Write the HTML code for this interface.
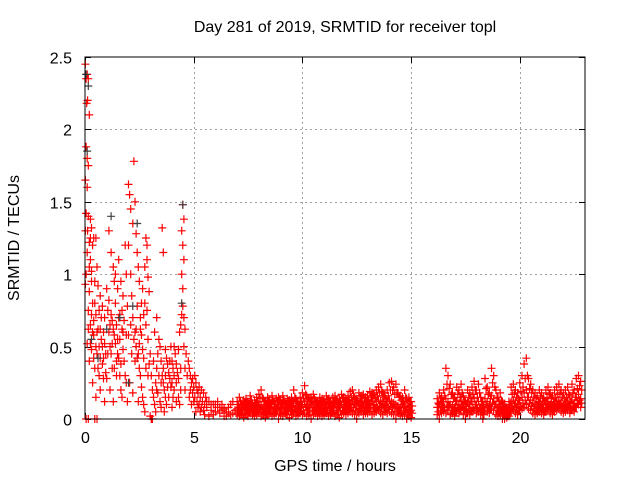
<!DOCTYPE html>
<html><head><meta charset="utf-8"><style>
body{margin:0;background:#fff;}
svg{display:block;font-family:"Liberation Sans",sans-serif;}
</style></head><body>
<svg id="chart" width="640" height="480" viewBox="0 0 640 480">
<rect width="640" height="480" fill="#fff"/>
<text x="345" y="32" font-size="16" text-anchor="middle" fill="#000">Day 281 of 2019, SRMTID for receiver topl</text>
<text x="335" y="471" font-size="16" text-anchor="middle" fill="#000">GPS time / hours</text>
<text transform="translate(19,238) rotate(-90)" font-size="16" text-anchor="middle" fill="#000">SRMTID / TECUs</text>
<g id="grid"></g>
<g id="ticks"></g>
<g id="red"></g>
<g id="black"></g>
<rect x="85" y="57" width="500" height="362" fill="none" stroke="#000" stroke-width="1"/>
</svg>
<script>
const xTicks=[0,5,10,15,20];
const yTicks=[0,0.5,1,1.5,2,2.5];
const yTickLabels=["0","0.5","1","1.5","2","2.5"];
const earlyPoints=[[0.02,2.45],[0.05,2.35],[0.1,2.38],[0.15,2.35],[0.08,2.18],[0.12,2.2],[0.2,2.1],[0.05,1.88],[0.1,1.8],[0.15,1.75],[0.02,1.65],[0.1,1.6],[0.05,1.42],[0.15,1.4],[0.25,1.38],[0.3,1.32],[0.02,1.3],[0.2,1.22],[0.35,1.2],[0.4,1.25],[0.1,1.15],[0.25,1.1],[0.5,1.25],[0.55,1.05],[0.3,1.02],[0.05,1.0],[0.45,0.95],[0.6,0.92],[0.2,0.88],[0.7,0.85],[0.35,0.8],[0.8,0.78],[0.15,0.75],[0.5,0.72],[0.9,0.7],[0.25,0.65],[0.6,0.62],[0.4,0.58],[0.75,0.55],[0.1,0.52],[0.3,0.48],[0.55,0.45],[0.85,0.42],[0.2,0.4],[0.45,0.35],[0.65,0.3],[0.95,0.32],[0.35,0.25],[0.7,0.2],[0.5,0.15],[0.9,0.12],[0.05,0],[0.15,0],[0.45,0],[0.55,0],[0.02,0.93],[0.4,0.68],[0.65,0.5],[0.8,0.38],
[0.3,0.72],[0.45,0.8],[0.55,0.6],[0.65,0.75],[0.7,0.62],[0.75,0.7],[0.85,0.6],[0.9,0.52],[0.95,0.45],[0.6,0.35],[0.7,0.42],[0.8,0.5],[0.35,0.6],[0.25,0.52],[0.5,0.5],[0.15,0.62],[0.85,0.28],[0.4,0.42],[0.3,0.95],[0.2,1.05],[0.12,1.3],[0.25,1.25],
[1.0,0.9],[1.05,0.75],[1.1,0.6],[1.15,0.5],[1.2,0.45],[1.25,0.35],[1.3,1.05],[1.35,0.95],[1.4,0.8],[1.45,0.65],[1.5,0.55],[1.55,0.42],[1.6,0.3],[1.65,0.2],[1.7,0.15],[1.1,1.3],[1.2,1.15],[1.4,1.0],[1.5,0.9],[1.6,0.72],[1.7,0.62],[1.75,0.48],[1.8,0.4],[1.85,0.3],[1.9,0.25],[1.95,0.12],[1.0,0.28],[1.15,0.2],[1.3,0.12],[1.45,0.3],[1.55,1.1],[1.65,0.95],[1.75,0.85],[1.85,1.2],[1.9,1.0],[1.95,0.78],[1.25,0.68],[1.35,0.58],[1.05,0.45],
[1.1,0.82],[1.2,0.72],[1.3,0.62],[1.4,0.52],[1.5,0.45],[1.6,0.55],[1.7,0.75],[1.8,0.68],[1.9,0.58],[1.25,0.52],[1.45,0.4],[1.65,0.38],[1.35,0.35],[1.15,0.65],[1.55,0.7],[1.75,0.6],
[2.0,1.62],[2.05,1.55],[2.1,1.45],[2.2,1.35],[2.25,1.78],[2.3,1.5],[2.35,1.28],[2.4,1.15],[2.45,1.05],[2.5,0.95],[2.0,1.2],[2.1,1.0],[2.15,0.85],[2.2,0.7],[2.3,0.6],[2.35,0.5],[2.4,0.42],[2.5,0.35],[2.55,0.3],[2.6,0.22],[2.65,0.15],[2.7,0.1],[2.75,0.05],[2.8,1.25],[2.85,1.1],[2.9,0.98],[2.95,0.88],[2.6,0.8],[2.7,0.72],[2.8,0.65],[2.9,0.55],[3.0,0.45],[2.05,0.25],[2.2,0.18],[2.45,0.12],[2.0,0.58],[2.55,0.62],[2.75,1.05],[2.85,1.2],[2.95,0.38],[2.4,0.78],[2.65,0.48],
[2.1,0.65],[2.25,0.55],[2.35,0.62],[2.5,0.52],[2.6,0.58],[2.7,0.42],[2.8,0.35],[2.9,0.3],[2.15,0.45],[2.3,0.4],[2.45,0.45],[2.55,0.7],[2.65,0.9],[2.75,0.8],[2.85,0.75],
[3.05,0.3],[3.1,0.2],[3.15,0.15],[3.2,0.1],[3.25,0.05],[3.3,0.35],[3.35,0.45],[3.4,0.55],[3.45,0.5],[3.5,0.4],[3.55,1.32],[3.6,1.15],[3.55,0.3],[3.6,0.25],[3.65,0.2],[3.7,0.15],[3.75,0.42],[3.8,0.38],[3.85,0.32],[3.9,0.28],[3.95,0.22],[4.0,0.4],[4.05,0.35],[4.1,0.3],[4.15,0.45],[4.2,0.38],[4.25,0.32],[4.3,0.28],[4.35,0.6],[4.4,0.65],[4.45,0.72],[4.5,0.78],[4.55,0.7],[4.6,0.62],[4.5,1.48],[4.55,1.38],[4.45,1.3],[4.5,1.2],[4.55,1.1],[4.45,1.0],[4.5,0.9],[3.2,0.6],[3.3,0.7],[3.0,0.02],[3.05,0],[3.1,0],[3.25,0.25],[3.45,0.12],[3.65,0.05],[3.85,0.15],[4.0,0.08],[4.2,0.12],[4.4,0.2],[4.6,0.35],[4.65,0.45],[4.7,0.3],[3.15,0.4],[3.35,0.18],[3.5,0.08],[4.1,0.5],[4.3,0.48],[3.7,0.48],[3.95,0.5],
[3.4,0.3],[3.5,0.25],[3.6,0.35],[3.7,0.3],[3.8,0.22],[3.9,0.4],[4.0,0.25],[4.1,0.2],[4.2,0.25],[4.3,0.15],[4.4,0.35],[3.3,0.2],[3.75,0.1],[4.05,0.15],[4.35,0.1],[4.55,0.5],[4.6,0.2],
[4.75,0.4],[4.8,0.35],[4.85,0.3],[4.9,0.25],[4.95,0.28],[5.0,0.22],[5.05,0.3],[5.1,0.25],[5.15,0.2],[5.2,0.18],[5.25,0.22],[5.3,0.15],[5.35,0.2],[5.4,0.12],[5.45,0.18],[5.5,0.1],[5.55,0.15],[5.6,0.08],[5.7,0.12],[5.8,0.06],[5.9,0.1],[6.0,0.05],[6.1,0.08],[6.2,0.04],[6.3,0.06],[6.4,0.02],[6.5,0.05],[6.6,0.08],[6.7,0.1],[6.8,0.12],[6.9,0.06],[4.8,0.15],[4.9,0.1],[5.0,0.12],[5.1,0.05],[5.2,0.08],[5.3,0.05],[5.5,0.03],[5.7,0.02],[5.9,0.03],[6.1,0.12],[6.3,0.1],[6.5,0.02],[6.8,0.04],
[4.85,0.2],[4.95,0.18],[5.05,0.15],[5.15,0.12],[5.25,0.1],[5.35,0.08],[5.45,0.06],[5.6,0.12],[5.8,0.1],[6.0,0.1],[6.2,0.08],[6.4,0.07],[6.6,0.04],[6.7,0.03]];
const midStart=7.0;
const midHigh=[.12,.15,.1,.13,.14,.12,.16,.11,.13,.15,.17,.2,.14,.12,.15,.13,.16,.12,.14,.15,.13,.16,.12,.14,.13,.15,.2,.14,.12,.15,.18,.23,.16,.14,.15,.17,.13,.12,.15,.14,.13,.16,.14,.12,.15,.16,.13,.14,.17,.15,.14,.16,.19,.2,.15,.14,.18,.16,.17,.15,.16,.19,.18,.17,.2,.22,.24,.18,.16,.2,.25,.26,.22,.24,.18,.16,.15,.2,.14,.15,.12];
const midUpper=[.1,.12,.09,.11,.12,.1,.13,.09,.11,.12,.14,.15,.12,.1,.12,.11,.13,.1,.12,.13,.11,.13,.1,.12,.11,.12,.15,.12,.1,.12,.14,.17,.13,.12,.13,.14,.11,.1,.12,.12,.11,.13,.12,.1,.12,.13,.11,.12,.14,.12,.12,.13,.15,.16,.13,.12,.14,.14,.14,.12,.13,.15,.15,.14,.16,.18,.19,.15,.14,.16,.2,.2,.17,.18,.15,.13,.12,.15,.11,.12,.09];
const midMid=[.07,.08,.06,.09,.08,.07,.1,.06,.08,.09,.1,.09,.08,.07,.09,.08,.1,.07,.08,.09,.08,.1,.07,.09,.08,.09,.11,.08,.07,.09,.1,.12,.09,.08,.1,.09,.08,.07,.09,.08,.08,.09,.1,.07,.09,.1,.08,.09,.1,.09,.09,.1,.11,.12,.1,.09,.1,.11,.1,.09,.1,.11,.12,.1,.12,.13,.12,.11,.1,.12,.13,.12,.11,.1,.09,.08,.1,.09,.07,.08,.06];
const midLower=[.05,.05,.05,.05,.06,.05,.07,.04,.05,.06,.07,.06,.05,.04,.06,.06,.06,.05,.06,.05,.06,.06,.05,.06,.05,.06,.07,.05,.05,.06,.06,.08,.06,.05,.05,.06,.06,.05,.06,.05,.05,.06,.06,.05,.06,.06,.05,.05,.06,.06,.06,.07,.08,.08,.06,.05,.07,.08,.06,.06,.07,.08,.08,.07,.08,.09,.08,.07,.07,.08,.09,.08,.07,.05,.06,.05,.06,.06,.04,.05,.04];
const midLow=[.03,.02,.04,.01,.03,.02,.04,.03,.02,.03,.04,.02,.03,.01,.03,.04,.02,.03,.04,0,.03,.02,.04,.03,.01,.03,.04,.02,.03,.04,.03,.04,.02,.03,0,.03,.04,.02,.03,.02,.03,.04,.02,.03,.04,.02,.03,.01,.03,.04,.03,.04,.05,.04,.03,0,.04,.05,.03,.04,.04,.05,.03,.04,.05,.06,.04,.03,.05,.04,.05,.04,.03,0,.04,.03,.02,.03,0,.02,.01];
const lateStart=16.2;
const lateHigh=[.14,.18,.15,.2,.35,.3,.24,.18,.15,.22,.2,.24,.16,.12,.2,.18,.22,.26,.2,.24,.15,.12,.28,.22,.18,.35,.3,.2,.15,.18,.12,.1,.08,.12,.22,.24,.2,.18,.25,.3,.38,.42,.28,.24,.2,.18,.16,.2,.18,.15,.2,.22,.18,.16,.2,.22,.24,.2,.18,.2,.22,.16,.24,.2,.28,.3,.26];
const lateUpper=[.11,.14,.12,.16,.24,.21,.17,.14,.12,.17,.15,.18,.13,.1,.15,.14,.17,.2,.15,.18,.12,.09,.21,.17,.14,.25,.22,.15,.12,.13,.09,.08,.06,.09,.17,.18,.15,.14,.19,.22,.28,.3,.21,.18,.15,.14,.12,.15,.14,.12,.15,.17,.14,.12,.15,.17,.18,.15,.14,.15,.17,.12,.18,.15,.21,.23,.2];
const lateMid=[.08,.1,.09,.12,.14,.12,.1,.09,.08,.12,.1,.13,.09,.07,.11,.1,.12,.14,.1,.12,.08,.06,.14,.12,.1,.16,.14,.1,.08,.09,.06,.05,.04,.06,.12,.13,.11,.1,.13,.15,.18,.2,.15,.13,.11,.1,.09,.11,.1,.08,.11,.12,.1,.09,.11,.12,.13,.11,.1,.11,.12,.09,.13,.11,.15,.17,.14];
const lateLower=[.05,.06,.06,.08,.09,.09,.06,.06,.05,.08,.07,.09,.06,.04,.07,.06,.08,.1,.07,.08,.05,.03,.1,.08,.07,.11,.1,.06,.05,.06,.03,.03,.02,.04,.08,.09,.07,.06,.09,.11,.13,.15,.11,.09,.07,.06,.06,.08,.07,.05,.08,.09,.07,.06,.08,.09,.1,.08,.07,.08,.09,.06,.09,.08,.11,.13,.11];
const lateLow=[.03,0,.04,.05,.04,.06,.03,.04,.02,.05,.04,.06,.03,0,.04,.03,.05,.06,.04,.05,.03,0,.06,.05,.04,.07,.06,.03,.02,.03,0,0,.01,.02,.05,.06,.04,.03,.06,.07,.08,.1,.07,.06,.04,.03,.04,.05,.04,.03,.05,.06,.04,.03,.05,.06,.07,.05,.04,.05,.06,.04,.06,.05,.08,.1,.08];
const blackPoints=[[0.05,2.38],[0.1,1.85],[0.3,0.55],[1.2,1.4],[2.4,1.35],[2.0,0.25],[4.5,1.48],[4.45,0.8],[0.6,0.42],[1.6,0.7],[2.2,0.78],[0.15,2.3],[1.0,0.62]];

const X0=85,X1=585,Y0=419,Y1=57,XMAX=23,YMAX=2.5;
const sx=v=>X0+v/XMAX*(X1-X0);
const sy=v=>Y0-v/YMAX*(Y0-Y1);
const NS="http://www.w3.org/2000/svg";
const grid=document.getElementById('grid'),ticks=document.getElementById('ticks');
function line(p,x1,y1,x2,y2,st,dash){const l=document.createElementNS(NS,'line');l.setAttribute('x1',x1);l.setAttribute('y1',y1);l.setAttribute('x2',x2);l.setAttribute('y2',y2);l.setAttribute('stroke',st);if(dash)l.setAttribute('stroke-dasharray',dash);p.appendChild(l);return l;}
function txt(p,x,y,s,anchor){const t=document.createElementNS(NS,'text');t.setAttribute('x',x);t.setAttribute('y',y);t.setAttribute('font-size','16');t.setAttribute('text-anchor',anchor);t.textContent=s;p.appendChild(t);return t;}
xTicks.forEach(v=>{const x=Math.round(sx(v))+0.5;
 if(v>0){const g=line(grid,x,Y1,x,Y0,'#a0a0a0','2,3');}
 line(ticks,x,Y0,x,Y0-6,'#000');line(ticks,x,Y1,x,Y1+6,'#000');
 const t=txt(ticks,x,443,String(v),'middle');
 
 });
yTicks.forEach((v,i)=>{const y=Math.round(sy(v))+0.5;
 if(v>0&&v<YMAX){const g=line(grid,X0,y,X1,y,'#a0a0a0','2,3');}
 line(ticks,X0,y,X0+6,y,'#000');line(ticks,X1,y,X1-6,y,'#000');
 const t=txt(ticks,72,y+6,yTickLabels[i],'end');
 
 });
function plus(parent,list,color,name){let d='';list.forEach(p=>{const x=sx(p[0]),y=sy(p[1]);d+='M'+(x-4).toFixed(1)+' '+y.toFixed(1)+'h8M'+x.toFixed(1)+' '+(y-4).toFixed(1)+'v8';});
 const path=document.createElementNS(NS,'path');path.setAttribute('d',d);path.setAttribute('stroke',color);path.setAttribute('fill','none');path.setAttribute('stroke-width','1.2');
 
 
 parent.appendChild(path);}
const redList=earlyPoints.slice();
[midHigh,midUpper,midMid,midLower,midLow].forEach((a,k)=>a.forEach((v,i)=>redList.push([midStart+i*0.1+(k%2)*0.05,v])));
[lateHigh,lateUpper,lateMid,lateLower,lateLow].forEach((a,k)=>a.forEach((v,i)=>redList.push([lateStart+i*0.1+(k%2)*0.05,v])));
plus(document.getElementById('black'),blackPoints,'#404040','black-points');
plus(document.getElementById('red'),redList,'#ff0000','red-points');
</script>
</body></html>
